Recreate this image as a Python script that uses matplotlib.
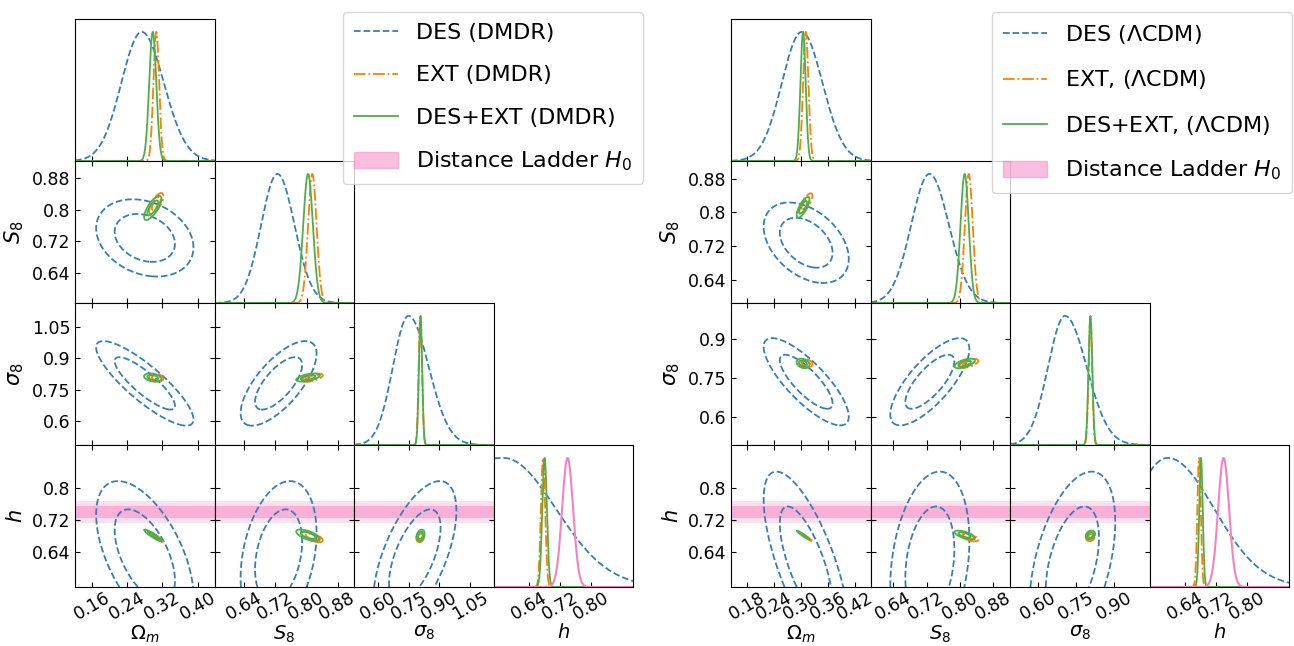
import numpy as np
import matplotlib
matplotlib.use('Agg')
import matplotlib.pyplot as plt
from matplotlib.ticker import FixedLocator, StrMethodFormatter
from matplotlib.lines import Line2D
from matplotlib.patches import Patch

axis_labels = [r'$\Omega_m$', r'$S_8$', r'$\sigma_8$', r'$h$']
# pairs (row param, col param) for the correlation lists
pairs = [(1, 0), (2, 0), (2, 1), (3, 0), (3, 1), (3, 2)]

# distance ladder H0/100
h_ladder = 0.7403
h_ladder_err = 0.0142

# ---------------- DMDR (left triangle) ----------------
dmdr_lims = [(0.122, 0.438), (0.563, 0.923), (0.484, 1.166), (0.55, 0.91)]
dmdr_ticks = [[0.16, 0.24, 0.32, 0.40], [0.64, 0.72, 0.80, 0.88],
              [0.60, 0.75, 0.90, 1.05], [0.64, 0.72, 0.80]]
# DES 1D marginals: peak, width below / above peak
dmdr_des_peak = [0.273, 0.725, 0.749, 0.575]
dmdr_des_lo = [0.046, 0.042, 0.076, 0.30]
dmdr_des_hi = [0.050, 0.044, 0.099, 0.135]
# 2D contours: mean, sd, correlation (order of `pairs`)
dmdr_des_mean = [0.280, 0.728, 0.780, 0.630]
dmdr_des_sd = [0.045, 0.040, 0.083, 0.077]
dmdr_des_rho = [-0.25, -0.85, 0.70, -0.55, 0.30, 0.60]
dmdr_ext_mean = [0.306, 0.815, 0.807, 0.677]
dmdr_ext_sd = [0.0065, 0.011, 0.008, 0.0055]
dmdr_ext_rho = [0.70, -0.20, 0.60, -0.95, -0.65, 0.20]
dmdr_joint_mean = [0.298, 0.804, 0.808, 0.681]
dmdr_joint_sd = [0.0080, 0.0125, 0.008, 0.006]
dmdr_joint_rho = [0.75, -0.30, 0.55, -0.93, -0.65, 0.30]

# ---------------- LCDM (right triangle) ----------------
lcdm_lims = [(0.145, 0.455), (0.585, 0.922), (0.49, 1.04), (0.55, 0.91)]
lcdm_ticks = [[0.18, 0.24, 0.30, 0.36, 0.42], [0.64, 0.72, 0.80, 0.88],
              [0.60, 0.75, 0.90], [0.64, 0.72, 0.80]]
lcdm_des_peak = [0.302, 0.727, 0.706, 0.596]
lcdm_des_lo = [0.044, 0.044, 0.067, 0.096]
lcdm_des_hi = [0.046, 0.047, 0.085, 0.120]
lcdm_des_mean = [0.312, 0.728, 0.735, 0.610]
lcdm_des_sd = [0.0386, 0.039, 0.069, 0.095]
lcdm_des_rho = [-0.40, -0.80, 0.75, -0.70, 0.25, 0.45]
lcdm_ext_mean = [0.311, 0.822, 0.806, 0.677]
lcdm_ext_sd = [0.006, 0.0095, 0.007, 0.0045]
lcdm_ext_rho = [0.75, -0.20, 0.60, -0.97, -0.65, 0.20]
lcdm_joint_mean = [0.305, 0.812, 0.806, 0.682]
lcdm_joint_sd = [0.0058, 0.010, 0.0075, 0.0045]
lcdm_joint_rho = [0.75, -0.25, 0.60, -0.97, -0.65, 0.25]

blue, orange, green, pink = '#377eb8', '#ff7f00', '#4daf4a', '#f781bf'
LW = 1.3
TICK_FS = 12.5


def split_normal(x, peak, lo, hi):
    s = np.where(x < peak, lo, hi)
    return np.exp(-0.5 * ((x - peak) / s) ** 2)


def chi2(X, Y, mx, my, sx, sy, rho):
    dx = (X - mx) / sx
    dy = (Y - my) / sy
    return (dx ** 2 - 2 * rho * dx * dy + dy ** 2) / (1 - rho ** 2)


def draw_triangle(fig, x0, lims, ticks, des, ext, joint, legend_labels, legend_anchor):
    w = 139.6 / 1294
    hgt = 142.0 / 646
    top = 1 - 19.0 / 646
    styles = [(blue, '--'), (orange, '-.'), (green, '-')]
    sets = [ext, joint]
    for i in range(4):
        for j in range(i + 1):
            ax = fig.add_axes([x0 + j * w, top - (i + 1) * hgt, w, hgt])
            ax.set_xlim(lims[j])
            ax.xaxis.set_major_locator(FixedLocator(ticks[j]))
            ax.xaxis.set_major_formatter(StrMethodFormatter('{x:.2f}'))
            if i == j:
                x = np.linspace(lims[i][0], lims[i][1], 600)
                y = split_normal(x, des[0][i], des[1][i], des[2][i])
                ax.plot(x, y / y.max(), color=blue, ls='--', lw=LW)
                for (c, ls), d in zip(styles[1:], sets):
                    y = np.exp(-0.5 * ((x - d[0][i]) / d[1][i]) ** 2)
                    ax.plot(x, y / y.max(), color=c, ls=ls, lw=LW)
                if i == 3:
                    y = np.exp(-0.5 * ((x - h_ladder) / h_ladder_err) ** 2)
                    ax.plot(x, y, color=pink, lw=1.5)
                ax.set_ylim(0, 1.1)
                ax.tick_params(direction='in', left=False, labelleft=False,
                               labelsize=TICK_FS)
            else:
                ax.set_ylim(lims[i])
                ax.yaxis.set_major_locator(FixedLocator(ticks[i]))
                ax.yaxis.set_major_formatter(StrMethodFormatter('{x:g}'))
                xs = np.linspace(lims[j][0], lims[j][1], 400)
                ys = np.linspace(lims[i][0], lims[i][1], 400)
                X, Y = np.meshgrid(xs, ys)
                k = pairs.index((i, j))
                if i == 3:
                    ax.axhspan(h_ladder - 2 * h_ladder_err, h_ladder + 2 * h_ladder_err,
                               color=pink, alpha=0.25, lw=0, zorder=0)
                    ax.axhspan(h_ladder - h_ladder_err, h_ladder + h_ladder_err,
                               color=pink, alpha=0.5, lw=0, zorder=0)
                d2 = [des[3], des[4], des[5]]
                for (c, ls), d in zip(styles, [d2, ext, joint]):
                    mean, sd, rho = d[0], d[1], d[2]
                    Z = chi2(X, Y, mean[j], mean[i], sd[j], sd[i], rho[k])
                    ax.contour(X, Y, Z, levels=[2.30, 5.99], colors=c,
                               linestyles=ls, linewidths=LW)
                ax.tick_params(direction='in', top=True, right=True, labelsize=TICK_FS)
                if j == 0:
                    ax.set_ylabel(axis_labels[i], fontsize=15)
                else:
                    ax.tick_params(labelleft=False)
            if i == 3:
                ax.tick_params(axis='x', pad=1)
                ax.set_xlabel(axis_labels[j], fontsize=14, labelpad=0)
                for t in ax.get_xticklabels():
                    t.set_rotation(30)
                    t.set_ha('center')
            else:
                ax.tick_params(labelbottom=False)

    handles = [Line2D([], [], color=blue, ls='--', lw=LW),
               Line2D([], [], color=orange, ls='-.', lw=LW),
               Line2D([], [], color=green, ls='-', lw=LW),
               Patch(facecolor=pink, alpha=0.5, edgecolor=pink)]
    fig.legend(handles, legend_labels, loc='upper right', bbox_to_anchor=legend_anchor,
               bbox_transform=fig.transFigure, fontsize=16, labelspacing=1.0,
               borderpad=0.5, borderaxespad=0)


fig = plt.figure(figsize=(12.94, 6.46), dpi=100)

draw_triangle(fig, 75.0 / 1294, dmdr_lims, dmdr_ticks,
              (dmdr_des_peak, dmdr_des_lo, dmdr_des_hi, dmdr_des_mean, dmdr_des_sd, dmdr_des_rho),
              (dmdr_ext_mean, dmdr_ext_sd, dmdr_ext_rho),
              (dmdr_joint_mean, dmdr_joint_sd, dmdr_joint_rho),
              ['DES (DMDR)', 'EXT (DMDR)', 'DES+EXT (DMDR)', r'Distance Ladder $H_0$'],
              (643.0 / 1294, 1 - 12.0 / 646))

draw_triangle(fig, 731.0 / 1294, lcdm_lims, lcdm_ticks,
              (lcdm_des_peak, lcdm_des_lo, lcdm_des_hi, lcdm_des_mean, lcdm_des_sd, lcdm_des_rho),
              (lcdm_ext_mean, lcdm_ext_sd, lcdm_ext_rho),
              (lcdm_joint_mean, lcdm_joint_sd, lcdm_joint_rho),
              [r'DES ($\Lambda$CDM)', r'EXT, ($\Lambda$CDM)', r'DES+EXT, ($\Lambda$CDM)',
               r'Distance Ladder $H_0$'],
              (1292.0 / 1294, 1 - 12.0 / 646))

fig.savefig('out.png', dpi=100)
